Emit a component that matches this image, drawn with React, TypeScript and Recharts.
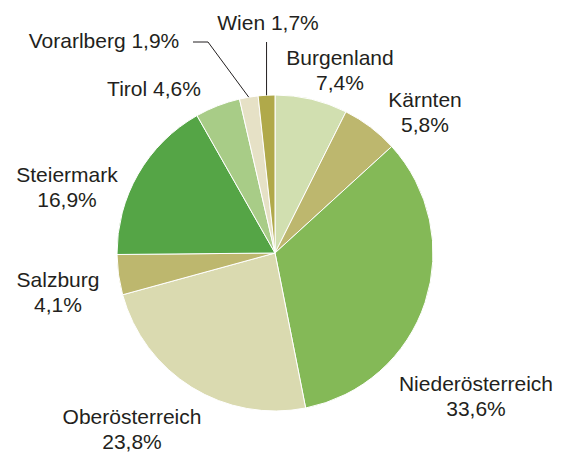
import { Cell, Pie, PieChart } from "recharts";

const REGIONS = [
  "Burgenland",
  "Kärnten",
  "Niederösterreich",
  "Oberösterreich",
  "Salzburg",
  "Steiermark",
  "Tirol",
  "Vorarlberg",
  "Wien",
];
const SHARES = [7.4, 5.8, 33.6, 23.8, 4.1, 16.9, 4.6, 1.9, 1.7];
const COLORS = [
  "#d1dfb0",
  "#bdb76e",
  "#84b957",
  "#dadab0",
  "#bdb76e",
  "#55a546",
  "#a8cc87",
  "#e6e1c6",
  "#b0a94a",
];

// label anchor relative to pie centre: [dx, dy, singleLine]
const LABEL_POS: Array<[number, number, boolean]> = [
  [65, -188, false],
  [150, -146, false],
  [201, 138, false],
  [-143, 171, false],
  [-217, 34, false],
  [-208, -71, false],
  [-121, -157, true],
  [-171, -205, true],
  [-7, -223, true],
];

const data = REGIONS.map((name, i) => ({ name, value: SHARES[i] }));

const RAD = Math.PI / 180;

function fmtPct(v: number): string {
  return v.toFixed(1).replace(".", ",") + "%";
}

function renderLabel(props: any) {
  const { cx, cy, midAngle, outerRadius, index } = props;
  const [dx, dy, single] = LABEL_POS[index];
  const x = cx + dx;
  const y = cy + dy;
  const name = REGIONS[index];
  const pct = fmtPct(SHARES[index]);
  const ex = cx + outerRadius * Math.cos(-midAngle * RAD);
  const ey = cy + outerRadius * Math.sin(-midAngle * RAD);
  let leader = null;
  if (name === "Wien") {
    leader = <polyline points={`${ex},${ey} ${ex},${cy - 211}`} fill="none" stroke="#231f20" strokeWidth={1} />;
  } else if (name === "Vorarlberg") {
    leader = (
      <polyline
        points={`${ex},${ey} ${cx - 67},${cy - 211} ${cx - 82},${cy - 211}`}
        fill="none"
        stroke="#231f20"
        strokeWidth={1}
      />
    );
  }
  return (
    <g key={`lbl-${index}`}>
      {leader}
      <text
        x={x}
        y={y}
        textAnchor="middle"
        fill="#231f20"
        fontSize={21}
        fontFamily="'Liberation Sans', Arial, sans-serif"
      >
        {single ? (
          `${name} ${pct}`
        ) : (
          <>
            <tspan x={x} dy={0}>{name}</tspan>
            <tspan x={x} dy={25}>{pct}</tspan>
          </>
        )}
      </text>
    </g>
  );
}

export default function App() {
  return (
    <div style={{ position: "absolute", left: 0, top: 0, width: 563, height: 452, background: "#fff" }}>
      <PieChart
        width={563}
        height={452}
        margin={{ top: 0, right: 0, bottom: 0, left: 0 }}
        style={{ overflow: "visible" }}
      >
        <Pie
          data={data}
          dataKey="value"
          nameKey="name"
          cx={275}
          cy={253}
          outerRadius={158}
          startAngle={90}
          endAngle={-270}
          stroke="#ffffff"
          strokeWidth={1}
          label={renderLabel}
          labelLine={false}
          isAnimationActive={false}
        >
          {data.map((d, i) => (
            <Cell key={d.name} fill={COLORS[i]} />
          ))}
        </Pie>
      </PieChart>
    </div>
  );
}
